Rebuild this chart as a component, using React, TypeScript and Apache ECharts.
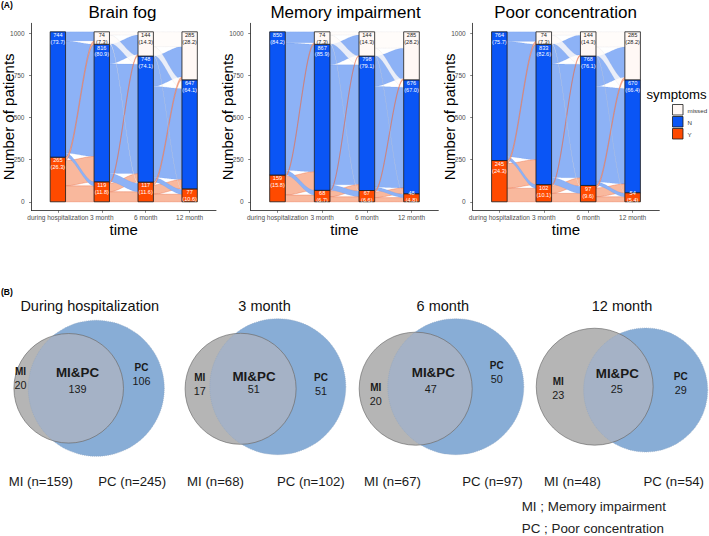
import React, { useEffect, useRef } from "react";
import * as echarts from "echarts";

// ---------- DATA ----------
const timeLabels = ["during hospitalization", "3 month", "6 month", "12 month"];
const panelTitles = ["Brain fog", "Memory impairment", "Poor concentration"];
const legendNames = ["missed", "N", "Y"];
const yTicks = [0, 250, 500, 750, 1000];

// Brain fog
const bfY = [265, 119, 117, 77];
const bfN = [744, 816, 748, 647];
const bfM = [0, 74, 144, 285];
const bfPctY = [26.3, 11.8, 11.6, 10.6];
const bfPctN = [73.7, 80.9, 74.1, 64.1];
const bfPctM = [0, 7.3, 14.3, 28.2];
// transitions: rows = from [Y, N, missed], cols = to [Y, N, missed]
const bfFlow1 = [[95, 150, 20], [24, 666, 54], [0, 0, 0]];
const bfFlow2 = [[60, 50, 9], [50, 650, 116], [7, 48, 19]];
const bfFlow3 = [[45, 55, 17], [28, 540, 180], [4, 52, 88]];

// Memory impairment
const miY = [159, 68, 67, 48];
const miN = [850, 867, 798, 676];
const miM = [0, 74, 144, 285];
const miPctY = [15.8, 6.7, 6.6, 4.8];
const miPctN = [84.2, 85.9, 79.1, 67.0];
const miPctM = [0, 7.3, 14.3, 28.2];
const miFlow1 = [[40, 110, 9], [28, 757, 65], [0, 0, 0]];
const miFlow2 = [[30, 35, 3], [33, 712, 122], [4, 51, 19]];
const miFlow3 = [[25, 34, 8], [20, 598, 180], [3, 44, 97]];

// Poor concentration
const pcY = [245, 102, 97, 54];
const pcN = [764, 833, 768, 670];
const pcM = [0, 74, 144, 285];
const pcPctY = [24.3, 10.1, 9.6, 5.4];
const pcPctN = [75.7, 82.6, 76.1, 66.4];
const pcPctM = [0, 7.3, 14.3, 28.2];
const pcFlow1 = [[80, 148, 17], [22, 685, 57], [0, 0, 0]];
const pcFlow2 = [[50, 45, 7], [42, 674, 117], [5, 49, 20]];
const pcFlow3 = [[30, 52, 15], [21, 567, 180], [3, 51, 90]];

// Venn (B)
const vennTitles = ["During hospitalization", "3 month", "6 month", "12 month"];
const vennMiOnly = [20, 17, 20, 23];
const vennBoth = [139, 51, 47, 25];
const vennPcOnly = [106, 51, 50, 29];
const vennMiTotal = [159, 68, 67, 48];
const vennPcTotal = [245, 102, 97, 54];

// ---------- LAYOUT / STYLE ----------
const FONT = "'Liberation Sans', Arial, Helvetica, sans-serif";
const BW = 0.35;
const Y_MIN = -50.45;
const Y_MAX = 1059.45;
const gridsA = [
  { left: 29, width: 187 },
  { left: 250.7, width: 187.6 },
  { left: 472.7, width: 186.6 },
];
const GRID_TOP = 23.3;
const GRID_H = 187;
const titleCx = [122.5, 345.5, 565.5];

const barFill = ["#FF4A00", "#0A55F5", "#FFF8F5"];
const flowFill = ["#F9B89D", "#8DB2F6", "rgba(255,251,249,0.82)"];
const flowStroke = ["rgba(228,85,45,0.55)", "rgba(70,115,225,0.3)", "rgba(190,190,200,0.35)"];

// Venn layout
const vMiC = [[68.7, 388.3], [240.6, 388.8], [415.7, 388.7], [594.7, 386.7]];
const vPcC = [[96.3, 388.3], [277.8, 386.7], [455.8, 386.7], [645.7, 390]];
const vPcR = [68, 68, 68, 62];
const vTitleX = [89.7, 264.5, 442.8, 622];
const vMiLab = [[20.5, 371.7], [199.8, 377.3], [375.8, 387.7], [558.3, 381.7]];
const vBothLab = [[77.5, 372], [254, 376], [433.3, 372.7], [617.3, 373.3]];
const vBothNum = [[77.5, 389], [253.8, 388.6], [430.8, 389.3], [616.7, 389]];
const vPcLab = [[141.5, 367.3], [321, 377.3], [496.7, 365.7], [680.7, 376.7]];
const vMiBottomX = [40.8, 215.5, 392.5, 572.5];
const vPcBottomX = [132.2, 310.8, 492.5, 673.7];

const plots = [
  { Y: bfY, N: bfN, M: bfM, pY: bfPctY, pN: bfPctN, pM: bfPctM, flows: [bfFlow1, bfFlow2, bfFlow3] },
  { Y: miY, N: miN, M: miM, pY: miPctY, pN: miPctN, pM: miPctM, flows: [miFlow1, miFlow2, miFlow3] },
  { Y: pcY, N: pcN, M: pcM, pY: pcPctY, pN: pcPctN, pM: pcPctM, flows: [pcFlow1, pcFlow2, pcFlow3] },
];

function stackAt(p: any, t: number) {
  return [p.Y[t], p.N[t], p.M[t]];
}
function pctAt(p: any, t: number) {
  return [p.pY[t], p.pN[t], p.pM[t]];
}

function buildFlows(p: any) {
  const items: number[][] = [];
  for (let t = 0; t < 3; t++) {
    const F = p.flows[t];
    const src = stackAt(p, t);
    const dst = stackAt(p, t + 1);
    const srcBase = [0, src[0], src[0] + src[1]];
    const dstBase = [0, dst[0], dst[0] + dst[1]];
    const srcOff = [[0, 0, 0], [0, 0, 0], [0, 0, 0]];
    const dstOff = [[0, 0, 0], [0, 0, 0], [0, 0, 0]];
    for (let s = 0; s < 3; s++) {
      let acc = srcBase[s];
      for (let d = 0; d < 3; d++) {
        srcOff[s][d] = acc;
        acc += F[s][d];
      }
    }
    for (let d = 0; d < 3; d++) {
      let acc = dstBase[d];
      for (let s = 0; s < 3; s++) {
        dstOff[s][d] = acc;
        acc += F[s][d];
      }
    }
    for (let s = 0; s < 3; s++)
      for (let d = 0; d < 3; d++)
        if (F[s][d] > 0) items.push([t, s, d, F[s][d], srcOff[s][d], dstOff[s][d]]);
  }
  items.sort((a, b) => b[3] - a[3]);
  return items;
}

function buildBars(p: any) {
  const items: number[][] = [];
  for (let t = 0; t < 4; t++) {
    const c = stackAt(p, t);
    const pc = pctAt(p, t);
    let base = 0;
    for (let s = 0; s < 3; s++) {
      if (c[s] > 0) items.push([t + 1, base, base + c[s], s, c[s], pc[s]]);
      base += c[s];
    }
  }
  return items;
}

function lensPoints(c1: number[], r1: number, c2: number[], r2: number) {
  const pts: number[][] = [];
  const n = 360;
  for (let i = 0; i < n; i++) {
    const a = (i / n) * Math.PI * 2;
    const p1 = [c1[0] + r1 * Math.cos(a), c1[1] + r1 * Math.sin(a)];
    if (Math.hypot(p1[0] - c2[0], p1[1] - c2[1]) <= r2) pts.push(p1);
    const p2 = [c2[0] + r2 * Math.cos(a), c2[1] + r2 * Math.sin(a)];
    if (Math.hypot(p2[0] - c1[0], p2[1] - c1[1]) <= r1) pts.push(p2);
  }
  let mx = 0, my = 0;
  pts.forEach((p) => { mx += p[0]; my += p[1]; });
  mx /= pts.length; my /= pts.length;
  pts.sort((a, b) => Math.atan2(a[1] - my, a[0] - mx) - Math.atan2(b[1] - my, b[0] - mx));
  return pts;
}

function buildOption() {
  const grid: any[] = [];
  const xAxis: any[] = [];
  const yAxis: any[] = [];
  const series: any[] = [];
  const title: any[] = [];

  plots.forEach((p, i) => {
    grid.push({ left: gridsA[i].left, width: gridsA[i].width, top: GRID_TOP, height: GRID_H, containLabel: false });
    xAxis.push({
      gridIndex: i, type: "value", min: 0.4, max: 4.6,
      axisLine: { show: true, onZero: false, lineStyle: { color: "#000", width: 0.7 } },
      axisTick: { show: true, customValues: [1, 2, 3, 4], length: 2.5, lineStyle: { color: "#333", width: 0.6 } },
      axisLabel: {
        customValues: [1, 2, 3, 4], formatter: (v: number) => timeLabels[Math.round(v) - 1],
        showMinLabel: true, showMaxLabel: true, hideOverlap: false,
        fontSize: 6.5, color: "#4d4d4d", margin: 3.5, fontFamily: FONT,
      },
      splitLine: { show: false },
      name: "time", nameLocation: "middle", nameGap: 11.5, nameMoveOverlap: false,
      nameTextStyle: { fontSize: 15, color: "#000", fontFamily: FONT },
    });
    yAxis.push({
      gridIndex: i, type: "value", min: Y_MIN, max: Y_MAX,
      axisLine: { show: true, onZero: false, lineStyle: { color: "#000", width: 0.7 } },
      axisTick: { show: true, customValues: yTicks, length: 2.5, lineStyle: { color: "#333", width: 0.6 } },
      axisLabel: {
        customValues: yTicks, formatter: (v: number) => String(Math.round(v)),
        showMinLabel: true, showMaxLabel: true, hideOverlap: false,
        fontSize: 6.5, color: "#4d4d4d", margin: 7, fontFamily: FONT,
      },
      splitLine: { show: false },
      name: "Number of patients", nameLocation: "middle", nameGap: 15.5, nameRotate: 90, nameMoveOverlap: false,
      nameTextStyle: { fontSize: 15, color: "#000", fontFamily: FONT },
    });
    title.push({
      text: panelTitles[i], left: titleCx[i], top: 4, textAlign: "center", padding: 0,
      textStyle: { fontSize: 17, fontWeight: "normal", color: "#000", fontFamily: FONT },
    });

    // flows
    series.push({
      type: "custom", xAxisIndex: i, yAxisIndex: i, z: 1,
      data: buildFlows(p),
      renderItem: (params: any, api: any) => {
        const t = api.value(0), s = api.value(1), cnt = api.value(3), sy = api.value(4), dy = api.value(5);
        const xs = t + 1 + BW / 2, xd = t + 2 - BW / 2;
        const top: number[][] = [], bot: number[][] = [];
        const n = 30;
        for (let k = 0; k <= n; k++) {
          const u = k / n;
          const f = u * u * (3 - 2 * u);
          const x = xs + (xd - xs) * u;
          top.push(api.coord([x, sy + cnt + (dy - sy) * f]));
          bot.push(api.coord([x, sy + (dy - sy) * f]));
        }
        return {
          type: "polygon",
          shape: { points: top.concat(bot.reverse()) },
          style: { fill: flowFill[s], stroke: flowStroke[s], lineWidth: s === 0 ? 0.6 : 0.4 },
        };
      },
    });
    // bars
    const bars = buildBars(p);
    series.push({
      type: "custom", xAxisIndex: i, yAxisIndex: i, z: 2,
      data: bars,
      renderItem: (params: any, api: any) => {
        const x = api.value(0), y0 = api.value(1), y1 = api.value(2), s = api.value(3);
        const tl = api.coord([x - BW / 2, y1]);
        const br = api.coord([x + BW / 2, y0]);
        return {
          type: "rect",
          shape: { x: tl[0], y: tl[1], width: br[0] - tl[0], height: br[1] - tl[1] },
          style: { fill: barFill[s], stroke: "#1a1a1a", lineWidth: 0.8 },
        };
      },
    });
    // labels
    series.push({
      type: "custom", xAxisIndex: i, yAxisIndex: i, z: 3,
      data: bars,
      renderItem: (params: any, api: any) => {
        const x = api.value(0), y1 = api.value(2), s = api.value(3), v = api.value(4), pc = api.value(5);
        const topPx = api.coord([x, y1])[1];
        const botPx = api.coord([x, 0])[1];
        const blockH = 13.4;
        const ty = Math.min(topPx, botPx + 1.5 - blockH);
        const cx = api.coord([x, 0])[0];
        return {
          type: "text", x: cx, y: ty,
          style: {
            text: `${v}\n(${Number(pc).toFixed(1)})`,
            fill: s === 2 ? "#222" : "#fff",
            fontSize: 5.6, lineHeight: 6.7, fontFamily: FONT,
            align: "center", verticalAlign: "top",
          },
        };
      },
    });
  });

  vennTitles.forEach((t, i) => {
    title.push({
      text: t, left: vTitleX[i], top: 298, textAlign: "center", padding: 0,
      textStyle: { fontSize: 14.5, fontWeight: "normal", color: "#111", fontFamily: FONT },
    });
  });

  // Venn diagrams
  series.push({
    type: "custom", coordinateSystem: "none", z: 1,
    data: vennTitles.map((_, i) => [i]),
    renderItem: (params: any, api: any) => {
      const i = params.dataIndex;
      const rPc = vPcR[i];
      const rMi = rPc * Math.sqrt(vennMiTotal[i] / vennPcTotal[i]);
      const cMi = vMiC[i], cPc = vPcC[i];
      const txt = (x: number, y: number, s: string, size: number, bold: boolean) => ({
        type: "text", x, y,
        style: {
          text: s, fill: "#1a1a1a", fontSize: size, fontWeight: bold ? "bold" : "normal",
          fontFamily: FONT, align: "center", verticalAlign: "middle",
        },
      });
      return {
        type: "group",
        children: [
          { type: "circle", shape: { cx: cPc[0], cy: cPc[1], r: rPc }, style: { fill: "#88ADD6" } },
          { type: "circle", shape: { cx: cMi[0], cy: cMi[1], r: rMi }, style: { fill: "#B5B5B5" } },
          { type: "polygon", shape: { points: lensPoints(cMi, rMi, cPc, rPc) }, style: { fill: "#A5B2C6" } },
          { type: "circle", shape: { cx: cMi[0], cy: cMi[1], r: rMi }, style: { fill: "none", stroke: "#5f5f5f", lineWidth: 0.6 } },
          { type: "circle", shape: { cx: cPc[0], cy: cPc[1], r: rPc }, style: { fill: "none", stroke: "#8ea4c0", lineWidth: 0.6, lineDash: [1, 1] } },
          txt(vMiLab[i][0], vMiLab[i][1], "MI", 10, true),
          txt(vMiLab[i][0], vMiLab[i][1] + 13.5, String(vennMiOnly[i]), 10.8, false),
          txt(vBothLab[i][0], vBothLab[i][1], "MI&PC", 13.4, true),
          txt(vBothNum[i][0], vBothNum[i][1], String(vennBoth[i]), 10.8, false),
          txt(vPcLab[i][0], vPcLab[i][1], "PC", 10, true),
          txt(vPcLab[i][0], vPcLab[i][1] + 13.5, String(vennPcOnly[i]), 10.8, false),
          txt(vMiBottomX[i], 481, `MI (n=${vennMiTotal[i]})`, 13.2, false),
          txt(vPcBottomX[i], 481, `PC (n=${vennPcTotal[i]})`, 13.2, false),
        ],
      };
    },
  });

  const legendFill = [barFill[2], barFill[1], barFill[0]];
  const graphic: any[] = [
    { type: "text", x: 1, y: 5, style: { text: "(A)", fontSize: 8.5, fontWeight: "bold", fill: "#000", fontFamily: FONT, verticalAlign: "middle" } },
    { type: "text", x: 1, y: 291.7, style: { text: "(B)", fontSize: 8.5, fontWeight: "bold", fill: "#000", fontFamily: FONT, verticalAlign: "middle" } },
    { type: "text", x: 646.5, y: 94, style: { text: "symptoms", fontSize: 13.2, fill: "#000", fontFamily: FONT, verticalAlign: "middle" } },
    { type: "text", x: 521.7, y: 506, style: { text: "MI ; Memory impairment", fontSize: 13.4, fill: "#222", fontFamily: FONT, verticalAlign: "middle" } },
    { type: "text", x: 521.7, y: 528.3, style: { text: "PC ; Poor concentration", fontSize: 13.4, fill: "#222", fontFamily: FONT, verticalAlign: "middle" } },
  ];
  legendNames.forEach((nm, k) => {
    graphic.push({
      type: "rect", shape: { x: 672.5, y: 104.5 + k * 12, width: 10.5, height: 10.5 },
      style: { fill: legendFill[k], stroke: "#1a1a1a", lineWidth: 0.8 },
    });
    graphic.push({
      type: "text", x: 687.5, y: 110 + k * 12,
      style: { text: nm, fontSize: 6.2, fill: "#333", fontFamily: FONT, verticalAlign: "middle" },
    });
  });

  return {
    animation: false,
    backgroundColor: "#fff",
    textStyle: { fontFamily: FONT },
    title, grid, xAxis, yAxis, series, graphic,
  };
}

export default function App() {
  const ref = useRef<HTMLDivElement>(null);
  useEffect(() => {
    if (!ref.current) return;
    const chart = echarts.init(ref.current, undefined, { renderer: "svg" });
    chart.setOption(buildOption() as any);
    return () => chart.dispose();
  }, []);
  return <div ref={ref} style={{ position: "absolute", left: 0, top: 0, width: 709, height: 536 }} />;
}
